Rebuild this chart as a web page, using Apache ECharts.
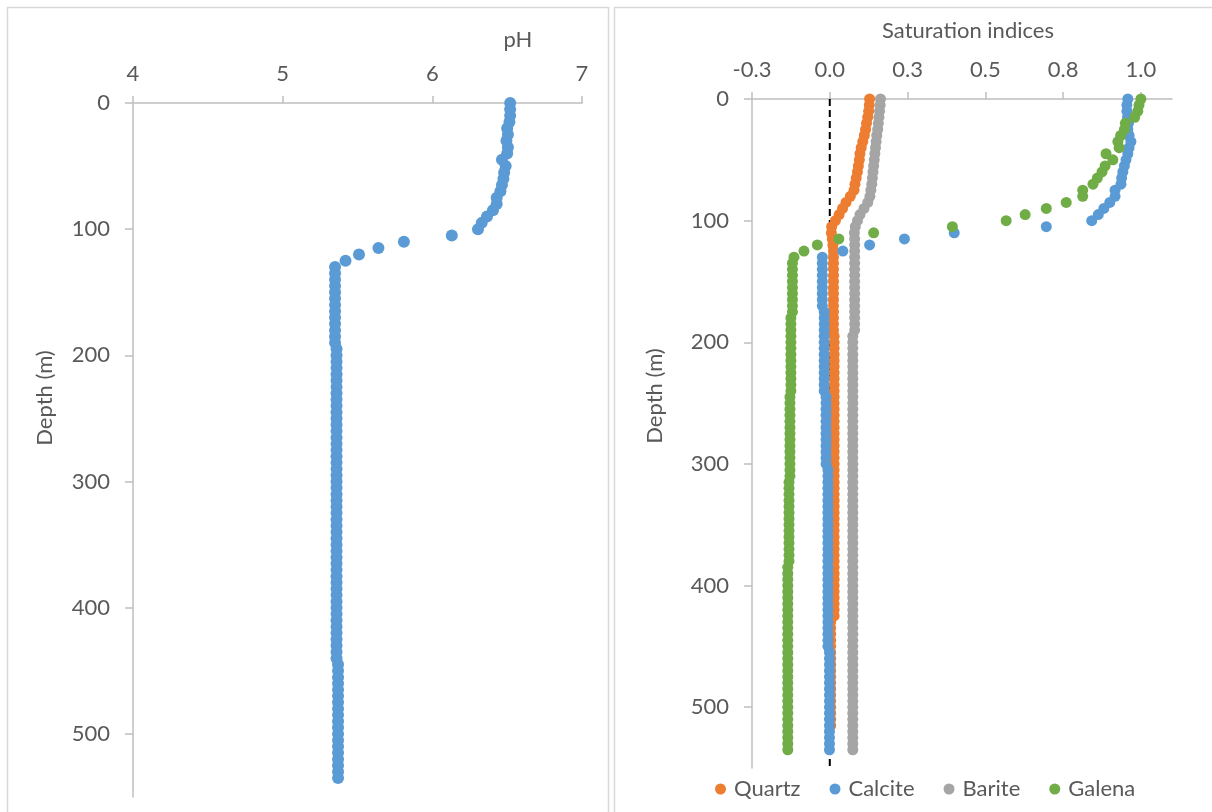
<!DOCTYPE html>
<html>
<head>
<meta charset="utf-8">
<script src="https://cdn.jsdelivr.net/npm/echarts@6/dist/echarts.min.js"></script>
<style>
  html, body { margin: 0; padding: 0; background: #fff; }
  #chart { width: 1212px; height: 812px; }
</style>
</head>
<body>
<div id="chart"></div>
<script>
// ---------- DATA ----------
const depth = [0,5,10,15,20,25,30,35,40,45,50,55,60,65,70,75,80,85,90,95,100,105,110,115,120,125,
  130,135,140,145,150,155,160,165,170,175,180,185,190,195,200,205,210,215,220,225,230,235,240,245,
  250,255,260,265,270,275,280,285,290,295,300,305,310,315,320,325,330,335,340,345,350,355,360,365,
  370,375,380,385,390,395,400,405,410,415,420,425,430,435,440,445,450,455,460,465,470,475,480,485,
  490,495,500,505,510,515,520,525,530,535];

const pH = [6.52,6.52,6.52,6.515,6.50,6.505,6.495,6.505,6.50,6.465,6.49,6.48,6.475,6.465,6.455,6.43,6.43,6.405,6.365,6.33,6.305,6.13,5.81,5.64,5.51,5.42,
  5.35,5.35,5.35,5.35,5.35,5.35,5.35,5.35,5.35,5.35,5.35,5.35,5.35,
  5.36,5.36,5.36,5.36,5.36,5.36,5.36,5.36,5.36,5.36,5.36,5.36,5.36,5.36,5.36,5.36,5.36,5.36,5.36,5.36,5.36,5.36,5.36,5.36,5.36,
  5.36,5.36,5.36,5.36,5.36,5.36,5.36,5.36,5.36,5.36,5.36,5.36,5.36,5.36,5.36,5.36,5.36,5.36,5.36,5.36,5.36,5.36,5.36,5.36,5.36,
  5.37,5.37,5.37,5.37,5.37,5.37,5.37,5.37,5.37,5.37,5.37,5.37,5.37,5.37,5.37,5.37,5.37,5.37,5.37];

const quartz = [0.128,0.127,0.125,0.122,0.118,0.115,0.111,0.106,0.101,0.097,0.095,0.092,0.089,0.085,0.081,0.078,0.066,0.052,0.041,0.030,0.018,0.006,0.005,0.008,0.010,0.012,
  0.012,0.012,0.012,0.012,0.012,0.012,0.012,0.012,0.012,0.012,0.012,0.012,0.012,
  0.014,0.014,0.014,0.014,0.014,0.014,0.014,0.014,0.014,0.014,0.014,0.014,0.014,0.014,0.014,0.014,0.014,0.014,0.014,0.014,0.014,0.014,0.014,0.014,0.014,
  0.014,0.014,0.014,0.014,0.014,0.014,0.014,0.014,0.014,0.014,0.014,0.014,0.014,0.014,0.014,0.014,0.014,0.014,0.014,0.014,0.014,0.014,
  0.003,0.003,0.003,0.003,0.003,0.003,0.003,0.003,0.003,0.003,0.003,0.003,0.003,0.003,0.003,0.003,0.003,0.003];

const calcite = [0.958,0.955,0.955,0.957,0.960,0.958,0.962,0.968,0.962,0.958,0.952,0.947,0.942,0.938,0.936,0.917,0.917,0.900,0.881,0.863,0.842,0.696,0.400,0.240,0.128,0.042,
  -0.024,-0.024,-0.024,-0.024,-0.024,-0.024,-0.024,-0.024,-0.024,
  -0.018,-0.018,-0.018,-0.018,-0.018,-0.018,-0.018,-0.018,-0.018,-0.018,-0.018,-0.018,-0.018,-0.018,
  -0.012,-0.012,-0.012,-0.012,-0.012,-0.012,-0.012,-0.012,-0.012,-0.012,-0.012,-0.012,
  -0.006,-0.006,-0.006,-0.006,-0.006,-0.006,-0.006,-0.006,-0.006,-0.006,-0.006,-0.006,-0.006,-0.006,-0.006,
  -0.006,-0.006,-0.006,-0.006,-0.006,-0.006,-0.006,-0.006,-0.006,-0.006,-0.006,-0.006,-0.006,-0.006,-0.006,
  -0.001,-0.001,-0.001,-0.001,-0.001,-0.001,-0.001,-0.001,-0.001,-0.001,-0.001,-0.001,-0.001,-0.001,-0.001,-0.001,-0.001];

const barite = [0.163,0.162,0.160,0.158,0.156,0.154,0.151,0.149,0.147,0.145,0.143,0.141,0.139,0.137,0.135,0.132,0.129,0.122,0.110,0.097,0.089,0.082,0.079,
  0.080,0.080,0.080,0.080,0.080,0.080,0.080,0.080,0.080,0.080,0.080,0.080,0.080,0.080,0.080,0.080,
  0.074,0.074,0.074,0.074,0.074,0.074,0.074,0.074,0.074,0.074,0.074,0.074,0.074,0.074,0.074,0.074,0.074,0.074,0.074,0.074,0.074,0.074,0.074,
  0.074,0.074,0.074,0.074,0.074,0.074,0.074,0.074,0.074,0.074,0.074,0.074,0.074,0.074,0.074,0.074,0.074,0.074,0.074,0.074,0.074,0.074,0.074,
  0.074,0.074,0.074,0.074,0.074,0.074,0.074,0.074,0.074,0.074,0.074,0.074,0.074,0.074,0.074,0.074,0.074,0.074,0.074,0.074,0.074,0.074,0.074];

const galena = [1.000,0.994,0.990,0.980,0.950,0.947,0.935,0.926,0.930,0.888,0.910,0.885,0.875,0.860,0.846,0.813,0.813,0.760,0.696,0.628,0.567,0.394,0.141,0.029,-0.040,-0.083,-0.115,
  -0.120,-0.120,-0.120,-0.120,-0.120,-0.120,-0.120,-0.120,-0.120,
  -0.125,-0.125,-0.125,-0.125,-0.125,-0.125,-0.125,-0.125,-0.125,-0.125,-0.125,-0.125,-0.125,
  -0.128,-0.128,-0.128,-0.128,-0.128,-0.128,-0.128,-0.128,-0.128,-0.128,-0.128,-0.128,-0.128,-0.128,
  -0.131,-0.131,-0.131,-0.131,-0.131,-0.131,-0.131,-0.131,-0.131,-0.131,-0.131,-0.131,-0.131,-0.131,
  -0.135,-0.135,-0.135,-0.135,-0.135,-0.135,-0.135,-0.135,-0.135,-0.135,-0.135,-0.135,-0.135,-0.135,-0.135,-0.135,
  -0.135,-0.135,-0.135,-0.135,-0.135,-0.135,-0.135,-0.135,-0.135,-0.135,-0.135,-0.135,-0.135,-0.135,-0.135];

const zeroLine = [[0, 0], [0, 550]];

const depthTicks = [0, 100, 200, 300, 400, 500];
const pHTicks = [4, 5, 6, 7];
const siTicks = [-0.25, 0, 0.25, 0.5, 0.75, 1.0];
const siTickLabels = ['-0.3', '0.0', '0.3', '0.5', '0.8', '1.0'];
const seriesNames = ['Quartz', 'Calcite', 'Barite', 'Galena'];

// ---------- STYLE ----------
const FONT = 'Lato';
const TXT = '#595959';
const AXIS = '#BFBFBF';
const COLORS = { Quartz: '#ED7D31', Calcite: '#5B9BD5', Barite: '#A5A5A5', Galena: '#70AD47', pH: '#5B9BD5' };

function pairs(xs) { return xs.map((v, i) => [v, depth[i]]); }

const chart = echarts.init(document.getElementById('chart'), null, { renderer: 'canvas' });

function xAxisBase(gridIndex, min, max, extra) {
  return Object.assign({
    type: 'value', gridIndex, position: 'top', min, max,
    axisLine: { show: true, onZero: false, lineStyle: { color: AXIS, width: 1.5 } },
    axisTick: { show: true, length: 7, lineStyle: { color: AXIS, width: 1.5 } },
    splitLine: { show: false },
    axisLabel: { color: TXT, fontFamily: FONT, fontSize: 22, margin: 18 }
  }, extra);
}
function yAxisBase(gridIndex) {
  return {
    type: 'value', gridIndex, inverse: true, min: 0, max: 550,
    axisLine: { show: true, onZero: false, lineStyle: { color: AXIS, width: 1.5 } },
    axisTick: { show: true, length: 8, customValues: depthTicks, lineStyle: { color: AXIS, width: 1.5 } },
    splitLine: { show: false },
    axisLabel: { color: TXT, fontFamily: FONT, fontSize: 22, margin: 23, customValues: depthTicks }
  };
}

const scatterRight = seriesNames.map((name) => ({
  name, type: 'scatter', xAxisIndex: 1, yAxisIndex: 1,
  symbol: 'circle', symbolSize: 11,
  itemStyle: { color: COLORS[name], opacity: 1 },
  data: pairs({ Quartz: quartz, Calcite: calcite, Barite: barite, Galena: galena }[name]),
  z: 3, animation: false
}));

const option = {
  animation: false,
  backgroundColor: '#ffffff',
  grid: [
    { left: 133, top: 103, width: 449, height: 694, outerBoundsMode: 'none', containLabel: false },
    { left: 752, top: 99, width: 420, height: 669, outerBoundsMode: 'none', containLabel: false }
  ],
  xAxis: [
    xAxisBase(0, 4, 7, { interval: 1, axisLabel: { color: TXT, fontFamily: FONT, fontSize: 22, margin: 18, customValues: pHTicks } }),
    xAxisBase(1, -0.25, 1.1, {
      axisTick: { show: true, length: 7, customValues: siTicks, lineStyle: { color: AXIS, width: 1.5 } },
      axisLabel: {
        color: TXT, fontFamily: FONT, fontSize: 22, margin: 18, customValues: siTicks,
        formatter: (v) => { const i = siTicks.findIndex(t => Math.abs(t - v) < 1e-9); return i >= 0 ? siTickLabels[i] : ''; }
      }
    })
  ],
  yAxis: [yAxisBase(0), yAxisBase(1)],
  legend: {
    data: seriesNames,
    left: 710, top: 773,
    icon: 'circle', itemWidth: 11, itemHeight: 11, itemGap: 29,
    textStyle: { color: TXT, fontFamily: FONT, fontSize: 22, padding: [0, 0, 0, 3] },
    selectedMode: false
  },
  series: [
    {
      name: 'pH', type: 'scatter', xAxisIndex: 0, yAxisIndex: 0,
      symbol: 'circle', symbolSize: 12,
      itemStyle: { color: COLORS.pH, opacity: 1 },
      data: pairs(pH)
    },
    {
      name: 'zero', type: 'line', xAxisIndex: 1, yAxisIndex: 1,
      data: zeroLine, symbol: 'none', silent: true, z: 1,
      lineStyle: { color: '#000000', width: 2, type: [7, 4] }
    }
  ].concat(scatterRight),
  graphic: [
    { type: 'rect', shape: { x: 7.5, y: 7.5, width: 601, height: 830 }, style: { fill: 'none', stroke: '#D9D9D9', lineWidth: 1.5 }, silent: true, z: -10 },
    { type: 'rect', shape: { x: 614.5, y: 7.5, width: 640, height: 830 }, style: { fill: 'none', stroke: '#D9D9D9', lineWidth: 1.5 }, silent: true, z: -10 },
    { type: 'text', x: 518, y: 40, style: { text: 'pH', fill: TXT, font: '22px ' + FONT, textAlign: 'center', textVerticalAlign: 'middle' } },
    { type: 'text', x: 968, y: 31, style: { text: 'Saturation indices', fill: TXT, font: '22px ' + FONT, textAlign: 'center', textVerticalAlign: 'middle' } },
    { type: 'text', x: 45, y: 398, rotation: Math.PI / 2, style: { text: 'Depth (m)', fill: TXT, font: '22px ' + FONT, textAlign: 'center', textVerticalAlign: 'middle' } },
    { type: 'text', x: 655, y: 396, rotation: Math.PI / 2, style: { text: 'Depth (m)', fill: TXT, font: '22px ' + FONT, textAlign: 'center', textVerticalAlign: 'middle' } }
  ]
};

chart.setOption(option);
</script>
</body>
</html>
